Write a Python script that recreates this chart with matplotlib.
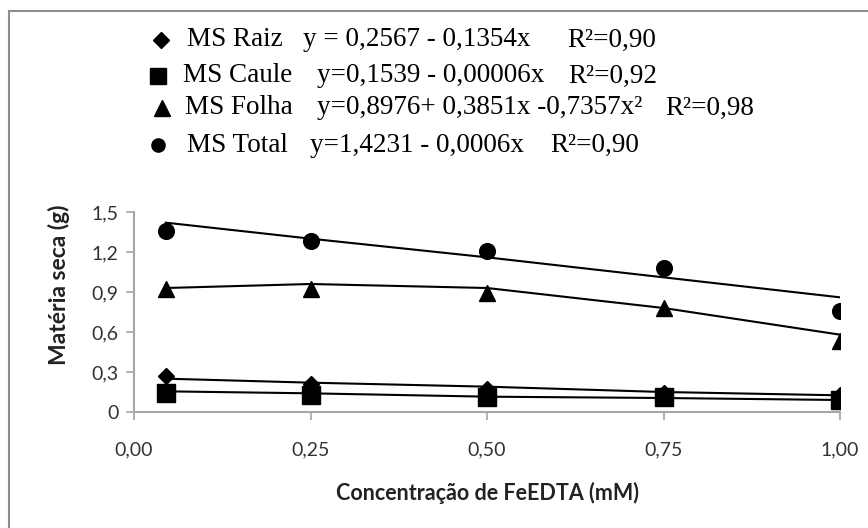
import matplotlib
matplotlib.use('Agg')
import matplotlib.pyplot as plt
from matplotlib.lines import Line2D
from matplotlib.patches import Rectangle

# dados
conc = [0.045, 0.25, 0.5, 0.75, 1.0]
raiz = [0.27, 0.21, 0.17, 0.14, 0.13]
caule = [0.14, 0.13, 0.11, 0.11, 0.09]
folha = [0.92, 0.92, 0.89, 0.78, 0.53]
total = [1.36, 1.28, 1.21, 1.08, 0.76]

# linhas de tendencia (valores nos pontos)
raiz_fit = [0.25, 0.22, 0.19, 0.15, 0.125]
caule_fit = [0.155, 0.14, 0.115, 0.105, 0.09]
folha_fit = [0.93, 0.96, 0.93, 0.78, 0.58]
total_fit = [1.42, 1.30, 1.16, 1.01, 0.86]

xticks = [0.0, 0.25, 0.5, 0.75, 1.0]
xtick_labels = ['0,00', '0,25', '0,50', '0,75', '1,00']
yticks = [0, 0.3, 0.6, 0.9, 1.2, 1.5]
ytick_labels = ['0', '0,3', '0,6', '0,9', '1,2', '1,5']

legend_names = ['MS Raiz', 'MS Caule', 'MS Folha', 'MS Total']
legend_eqs = ['y = 0,2567 - 0,1354x', 'y=0,1539 - 0,00006x',
              'y=0,8976+ 0,3851x -0,7357x²', 'y=1,4231 - 0,0006x']
legend_r2 = ['R²=0,90', 'R²=0,92', 'R²=0,98', 'R²=0,90']
legend_markers = ['D', 's', '^', 'o']

W, H = 868, 528
fig = plt.figure(figsize=(W / 100, H / 100), dpi=100)
ax = fig.add_axes([134 / W, (H - 412) / H, (840 - 134) / W, 200 / H])

series = [
    (raiz, raiz_fit, 'D', 8.5),
    (caule, caule_fit, 's', 13),
    (folha, folha_fit, '^', 12),
    (total, total_fit, 'o', 11.3),
]
for vals, fit, mk, ms in series:
    ax.plot(conc, fit, color='black', lw=1.5, zorder=2)
    ax.plot(conc, vals, linestyle='none', marker=mk, ms=ms, color='black', zorder=3)

ax.set_xlim(0, 1.0)
ax.set_ylim(0, 1.5)
ax.set_xticks(xticks)
ax.set_xticklabels(xtick_labels)
ax.set_yticks(yticks)
ax.set_yticklabels(ytick_labels)
for s in ['top', 'right']:
    ax.spines[s].set_visible(False)
for s in ['left', 'bottom']:
    ax.spines[s].set_color('#a6a6a6')
    ax.spines[s].set_linewidth(1.5)
ax.tick_params(colors='#a6a6a6', width=1.2, length=6, labelcolor='#333333',
               labelsize=14)
ax.tick_params(axis='x', pad=15)
ax.tick_params(axis='y', pad=5)
for lab in ax.get_xticklabels() + ax.get_yticklabels():
    lab.set_family('Lato')

ax.set_xlabel('Concentração de FeEDTA (mM)', family='Lato', fontweight='bold',
              fontsize=15.5, color='#222222', labelpad=17)
ax.set_ylabel('Matéria seca (g)', family='Lato', fontweight='bold',
              fontsize=16.5, color='#222222')
ax.yaxis.set_label_coords(-0.09, 0.635)

# legenda manual
row_y = [40, 76, 108, 145]
mk_x = [161, 158, 162, 158]
mk_size = [8.5, 11, 12, 9.5]
name_x = [187, 183, 185, 187]
eq_x = [303, 317, 317, 310]
r2_x = [567, 568, 665, 550]
for i in range(4):
    yf = 1 - row_y[i] / H
    fig.add_artist(Line2D([mk_x[i] / W], [yf], transform=fig.transFigure,
                          marker=legend_markers[i], ms=mk_size[i],
                          color='black', linestyle='none'))
    fig.text(name_x[i] / W, yf, legend_names[i], family='Liberation Serif',
             fontsize=19.5, va='center')
    fig.text(eq_x[i] / W, yf, legend_eqs[i], family='Liberation Serif',
             fontsize=19.5, va='center')
    fig.text(r2_x[i] / W, yf, legend_r2[i], family='Liberation Serif',
             fontsize=19.5, va='center')

# moldura
fig.add_artist(Rectangle((9 / W, -0.1), 1.2, 1 - 11 / H + 0.1,
                         transform=fig.transFigure, fill=False,
                         edgecolor='#8c8c8c', lw=1.5))

fig.savefig('out.png', dpi=100)
